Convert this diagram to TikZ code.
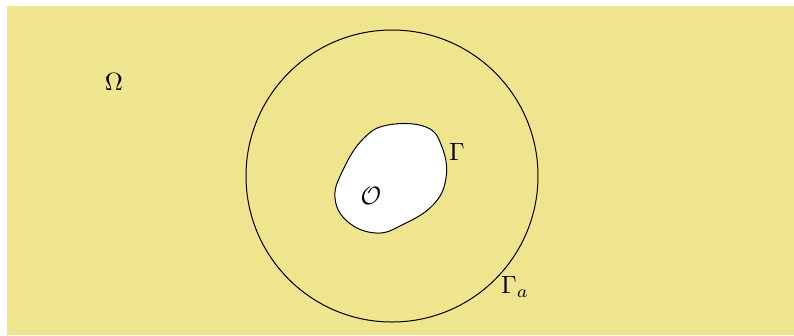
\documentclass[tikz,border=0pt]{standalone}
\begin{document}
\begin{tikzpicture}[x=0.4pt,y=-0.4pt,
  lbl/.style={inner sep=0pt}]
\useasboundingbox (0,0) rectangle (794,335);
\fill[fill={rgb,255:red,238;green,229;blue,142}] (7,6) rectangle (794,335);
\draw (392,176) circle[radius=146];
\draw[fill=white] plot[smooth cycle, tension=0.7] coordinates {(388,125) (426,127) (442,147) (446,178) (433,205) (402,225) (376,233) (348,222) (335,198) (343,170) (363,139)};
\node[lbl] (om) at (114,82) {$\Omega$};
\node[lbl] (g) at (457,152) {$\Gamma$};
\node[lbl] (o) at (371,196) {$\mathcal{O}$};
\node[lbl] (ga) at (515,287) {$\Gamma_a$};
\end{tikzpicture}
\end{document}
